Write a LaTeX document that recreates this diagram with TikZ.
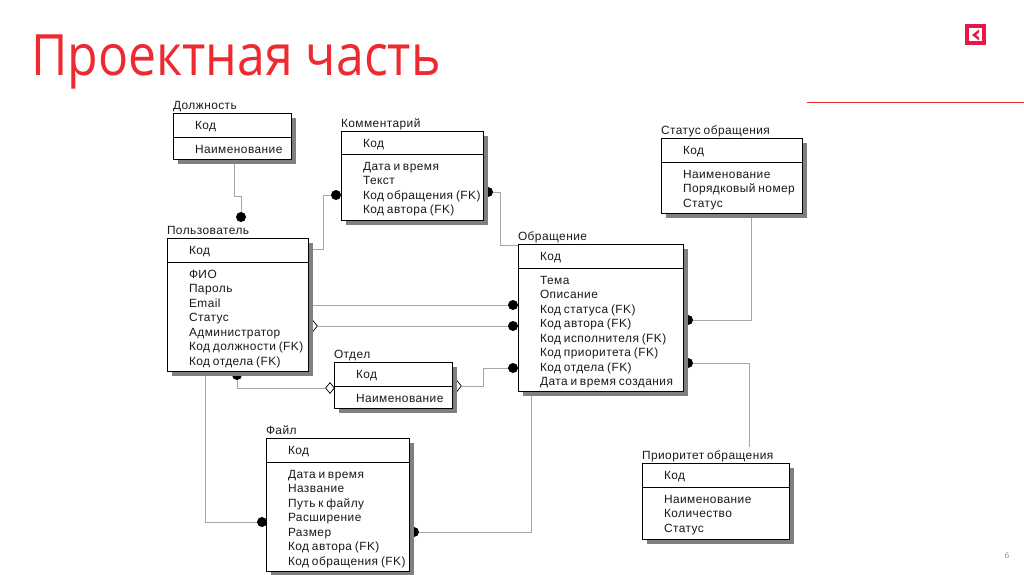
\documentclass[tikz,border=0pt]{standalone}
\usepackage{fontspec}
\setmainfont{Liberation Sans}
\newfontfamily\erfont[LetterSpace=3.8,WordSpace=0.75]{Liberation Sans}
\newfontfamily\titlefont[FakeStretch=0.877]{Open Sans}
\usetikzlibrary{shapes.geometric}
\definecolor{brandred}{HTML}{EC2A30}
\definecolor{iconred}{HTML}{E6184A}
\definecolor{connc}{HTML}{A6A6A6}
\definecolor{shadowc}{HTML}{7F7F7F}
\pgfdeclarelayer{back}
\pgfsetlayers{back,main}
\tikzset{
  x=1pt,y=-1pt,
  ebox/.style={draw=black,fill=white,line width=0.95pt,inner sep=0pt,outer sep=0pt},
  etext/.style={font=\erfont\fontsize{11.9}{14.5}\selectfont,inner sep=0pt,outer sep=0pt,text=black!90},
  conn/.style={draw=connc,line width=0.9pt},
  dot/.style={circle,fill=black,draw=none,minimum size=10pt,inner sep=0pt},
  odiam/.style={diamond,draw=black,fill=white,line width=0.7pt,minimum width=9pt,minimum height=11pt,inner sep=0pt,aspect=1},
}
% id, x1, y1, x2, ydiv, y2, title, key, attributes
\newcommand{\entitybox}[9]{%
  \fill[shadowc] (#2+5,#3+5) rectangle (#4+5,#6+5);
  \node[ebox,minimum width={(#4-#2)*1pt},minimum height={(#6-#3)*1pt}] (#1) at ({(#2+#4)/2},{(#3+#6)/2}) {};
  \draw[black,line width=0.9pt] (#2,#5) -- (#4,#5);
  \node[etext,anchor=base west] (#1-title) at (#2,#3-4) {#7};
  \node[etext,anchor=base west] (#1-key) at (#2+22,#3+16.9) {#8};
  \node[etext,anchor=north west,align=left] (#1-attrs) at (#2+22,#5+8.1) {#9};
}
\begin{document}
\begin{tikzpicture}
\useasboundingbox (0,0) rectangle (1024,574);
\node[anchor=base west,inner sep=0pt,text=brandred,font=\titlefont\fontsize{57}{60}\selectfont] (title) at (31,75) {Проектная часть};
\draw[brandred,line width=1pt] (807,102) -- (1024,102);
\draw[iconred,line width=3.6pt] (966.8,25.8) rectangle (984.2,43.2);
\fill[iconred] (979,29.5) -- (972,35) -- (979,40.5) -- (979,37.5) -- (976,35) -- (979,32.5) -- cycle;
\node[font=\fontsize{8}{9}\selectfont,text=black!45,inner sep=0pt] (pageno) at (1007,556) {6};

\entitybox{dol}{173}{113}{291}{137}{159}{Должность}{Код}{Наименование}
\entitybox{kom}{341}{131}{483}{154}{220}{Комментарий}{Код}{Дата и время\\Текст\\Код обращения (FK)\\Код автора (FK)}
\entitybox{usr}{167}{238}{308}{262}{371}{Пользователь}{Код}{ФИО\\Пароль\\Email\\Статус\\Администратор\\Код должности (FK)\\Код отдела (FK)}
\entitybox{otd}{334}{362}{452}{386}{408}{Отдел}{Код}{Наименование}
\entitybox{fil}{266}{438}{409}{462}{571}{Файл}{Код}{Дата и время\\Название\\Путь к файлу\\Расширение\\Размер\\Код автора (FK)\\Код обращения (FK)}
\entitybox{obr}{518}{244}{683}{268}{391}{Обращение}{Код}{Тема\\Описание\\Код статуса (FK)\\Код автора (FK)\\Код исполнителя (FK)\\Код приоритета (FK)\\Код отдела (FK)\\Дата и время создания}
\entitybox{sta}{661}{138}{802}{162}{213}{Статус обращения}{Код}{Наименование\\Порядковый номер\\Статус}
\entitybox{pri}{642}{463}{789}{487}{539}{Приоритет обращения}{Код}{Наименование\\Количество\\Статус}

\begin{pgfonlayer}{back}
\node[dot] (d1) at (241,217) {};
\node[dot] (d2) at (336,195) {};
\node[dot] (d3) at (488,192) {};
\node[dot] (d4) at (513,305) {};
\node[dot] (d5) at (513,326) {};
\node[dot] (d6) at (513,368) {};
\node[dot] (d7) at (237,375) {};
\node[dot] (d8) at (262,522) {};
\node[dot] (d9) at (414,532) {};
\node[dot] (d10) at (688,320) {};
\node[dot] (d11) at (688,363) {};
\node[odiam] (o1) at (313,326) {};
\node[odiam] (o2) at (457,386) {};
\node[odiam] (o3) at (330,388) {};
\coordinate (pritop) at (749,447);

\draw[conn] (dol.south -| 234,0) -- (234,196) -- (241,196) -- (d1);
\draw[conn] (usr.east |- 0,249) -- (323,249) -- (323,195) -- (d2);
\draw[conn] (d3) -- (500,192) -- (500,245) -- (obr.west |- 0,245);
\draw[conn] (usr.east |- d4) -- (d4);
\draw[conn] (o1) -- (d5);
\draw[conn] (o2) -- (483,386) -- (483,368) -- (d6);
\draw[conn] (d7) -- (237,388) -- (o3);
\draw[conn] (usr.south -| 205,0) -- (205,522) -- (d8);
\draw[conn] (d9) -- (531,532) -- (obr.south -| 531,0);
\draw[conn] (sta.south -| 751,0) -- (751,320) -- (d10);
\draw[conn] (d11) -- (749,363) -- (pritop);
\end{pgfonlayer}
\end{tikzpicture}
\end{document}
